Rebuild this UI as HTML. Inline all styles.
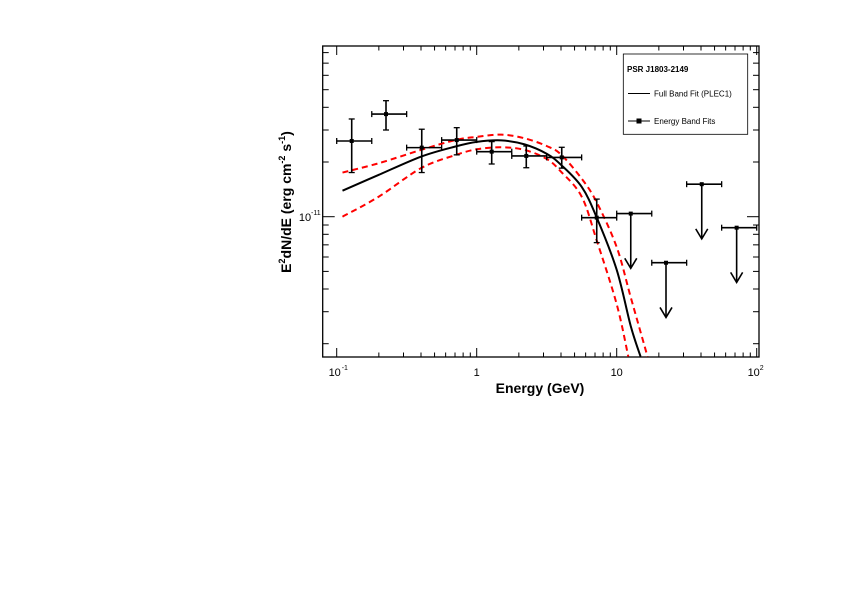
<!DOCTYPE html>
<html><head><meta charset="utf-8"><style>
html,body{margin:0;padding:0;background:#fff;}
svg{display:block;font-family:"Liberation Sans",sans-serif;}
</style></head><body>
<svg id="chart" width="842" height="595" viewBox="0 0 842 595">
<g id="plot"></g>
</svg>
<script>
const energies=[0.128,0.225,0.405,0.72,1.28,2.26,4.05,7.2];
const binLo=[0.1,0.178,0.316,0.562,1,1.78,3.16,5.62];
const binHi=[0.178,0.316,0.562,1,1.78,3.16,5.62,10];
const fluxes=[2.61e-11,3.67e-11,2.40e-11,2.64e-11,2.28e-11,2.16e-11,2.12e-11,9.88e-12];
const errUp=[3.45e-11,4.35e-11,3.03e-11,3.09e-11,2.59e-11,2.45e-11,2.41e-11,1.25e-11];
const errDown=[1.75e-11,3.0e-11,1.75e-11,2.19e-11,1.95e-11,1.86e-11,1.85e-11,7.2e-12];
const ulEnergies=[12.6,22.5,40.5,71.9];
const ulLo=[10,17.8,31.6,56.2];
const ulHi=[17.8,31.6,56.2,100];
const ulValues=[1.04e-11,5.58e-12,1.51e-11,8.7e-12];
const fitE=[0.11,0.2,0.4,0.7,1,1.5,2.2,3.16,4,5.62,7.2,10,12.6,14.8];
const fitF=[1.39e-11,1.70e-11,2.14e-11,2.43e-11,2.58e-11,2.63e-11,2.50e-11,2.22e-11,1.93e-11,1.46e-11,9.9e-12,5.1e-12,2.5e-12,1.7e-12];
const upE=[0.11,0.2,0.4,0.7,1,1.5,2.2,3.16,4,5.62,7.2,10,12.6,16.6];
const upF=[1.75e-11,1.97e-11,2.33e-11,2.64e-11,2.75e-11,2.83e-11,2.70e-11,2.45e-11,2.20e-11,1.62e-11,1.20e-11,6.8e-12,3.6e-12,1.7e-12];
const loE=[0.11,0.2,0.4,0.7,1,1.5,2.2,3.16,4,5.62,7.2,10,12.1];
const loF=[1.0e-11,1.29e-11,1.85e-11,2.18e-11,2.35e-11,2.41e-11,2.33e-11,2.08e-11,1.77e-11,1.29e-11,7.4e-12,3.3e-12,1.7e-12];

const L=322.7,R=759,T=46,B=357;
const X=e=>336.7+(Math.log10(e)+1)*140;
const Y=f=>216.7-(Math.log10(f)+11)*181.7;
const NS='http://www.w3.org/2000/svg';
const g=document.getElementById('plot');
function mk(tag,attrs,parent){const el=document.createElementNS(NS,tag);for(const k in attrs)el.setAttribute(k,attrs[k]);(parent||g).appendChild(el);return el;}
function txt(x,y,s,attrs,parent){const t=mk('text',Object.assign({x:x,y:y},attrs||{}),parent);t.textContent=s;return t;}

const frame=mk('rect',{x:L,y:T,width:R-L,height:B-T,fill:'none',stroke:'#000','stroke-width':1.3});



for(let d=-1;d<=1;d++){for(let m=1;m<=9;m++){const e=m*Math.pow(10,d);const x=X(e);if(x<L||x>R)continue;const len=m===1?9:4.5;
 mk('line',{x1:x,x2:x,y1:B,y2:B-len,stroke:'#000','stroke-width':1});
 mk('line',{x1:x,x2:x,y1:T,y2:T+len,stroke:'#000','stroke-width':1});}}
mk('line',{x1:X(100),x2:X(100),y1:B,y2:B-9,stroke:'#000'});
mk('line',{x1:X(100),x2:X(100),y1:T,y2:T+9,stroke:'#000'});
for(let d=-12;d<=-11;d++){for(let m=1;m<=9;m++){const f=m*Math.pow(10,d);const y=Y(f);if(y<T||y>B)continue;const len=m===1?12:6;
 mk('line',{x1:L,x2:L+len,y1:y,y2:y,stroke:'#000','stroke-width':1});
 mk('line',{x1:R,x2:R-len,y1:y,y2:y,stroke:'#000','stroke-width':1});}}

const xl1=txt(X(0.1)-2,376,'10',{'font-size':11,'text-anchor':'middle'});

txt(X(0.1)+5,370,'-1',{'font-size':7});
const xl2=txt(X(1),376,'1',{'font-size':11,'text-anchor':'middle'});

const xl3=txt(X(10),376,'10',{'font-size':11,'text-anchor':'middle'});

const xl4=txt(X(100)-3,376,'10',{'font-size':11,'text-anchor':'middle'});

txt(X(100)+3,370,'2',{'font-size':7});
const yl=txt(305,221,'10',{'font-size':11,'text-anchor':'middle'});

txt(311,215,'-11',{'font-size':7});

const xt=txt(540,393,'Energy (GeV)',{'font-size':14,'font-weight':'bold','text-anchor':'middle'});

const yt=mk('text',{x:0,y:0,'font-size':14,'font-weight':'bold','text-anchor':'middle',transform:'translate(291,202) rotate(-90)'});

yt.innerHTML='E<tspan font-size="9" dy="-6">2</tspan><tspan dy="6">dN/dE (erg cm</tspan><tspan font-size="9" dy="-6">-2</tspan><tspan dy="6"> s</tspan><tspan font-size="9" dy="-6">-1</tspan><tspan dy="6">)</tspan>';

const clipDef=mk('clipPath',{id:'clip'});mk('rect',{x:L,y:T,width:R-L,height:B-T},clipDef);
function path(E,F){const P=E.map((e,i)=>[X(e),Y(F[i])]);let p='M'+P[0][0]+' '+P[0][1];
 for(let i=1;i<P.length;i++){const p0=P[i-1],p1=P[i],pp=P[Math.max(i-2,0)],pn=P[Math.min(i+1,P.length-1)];
  p+=' C'+(p0[0]+(p1[0]-pp[0])/6)+' '+(p0[1]+(p1[1]-pp[1])/6)+' '+(p1[0]-(pn[0]-p0[0])/6)+' '+(p1[1]-(pn[1]-p0[1])/6)+' '+p1[0]+' '+p1[1];}
 return p;}
const fit=mk('path',{d:path(fitE,fitF),fill:'none',stroke:'#000','stroke-width':2,'clip-path':'url(#clip)'});

const up=mk('path',{d:path(upE,upF),fill:'none',stroke:'#f00','stroke-width':2,'stroke-dasharray':'6,4','clip-path':'url(#clip)'});

const lo=mk('path',{d:path(loE,loF),fill:'none',stroke:'#f00','stroke-width':2,'stroke-dasharray':'6,4','clip-path':'url(#clip)'});


for(let i=0;i<energies.length;i++){const pg=mk('g',{});
 
 
 const x=X(energies[i]),y=Y(fluxes[i]);
 mk('line',{x1:X(binLo[i]),x2:X(binHi[i]),y1:y,y2:y,stroke:'#000','stroke-width':1.6},pg);
 mk('line',{x1:x,x2:x,y1:Y(errUp[i]),y2:Y(errDown[i]),stroke:'#000','stroke-width':1.6},pg);
 [X(binLo[i]),X(binHi[i])].forEach(xx=>mk('line',{x1:xx,x2:xx,y1:y-3,y2:y+3,stroke:'#000','stroke-width':1.3},pg));
 [Y(errUp[i]),Y(errDown[i])].forEach(yy=>mk('line',{x1:x-3,x2:x+3,y1:yy,y2:yy,stroke:'#000','stroke-width':1.3},pg));
 mk('rect',{x:x-2,y:y-2,width:4,height:4,fill:'#000'},pg);}
for(let i=0;i<ulEnergies.length;i++){const pg=mk('g',{});
 
 
 const x=X(ulEnergies[i]),y=Y(ulValues[i]),ye=Y(ulValues[i]/2);
 mk('line',{x1:X(ulLo[i]),x2:X(ulHi[i]),y1:y,y2:y,stroke:'#000','stroke-width':1.6},pg);
 [X(ulLo[i]),X(ulHi[i])].forEach(xx=>mk('line',{x1:xx,x2:xx,y1:y-3,y2:y+3,stroke:'#000','stroke-width':1.3},pg));
 mk('line',{x1:x,x2:x,y1:y,y2:ye,stroke:'#000','stroke-width':1.6},pg);
 mk('polyline',{points:(x-6)+','+(ye-10)+' '+x+','+ye+' '+(x+6)+','+(ye-10),fill:'none',stroke:'#000','stroke-width':1.6},pg);
 mk('rect',{x:x-2,y:y-2,width:4,height:4,fill:'#000'},pg);}

const lg=mk('g',{});


mk('rect',{x:623.3,y:54,width:124.4,height:80.3,fill:'#fff',stroke:'#000','stroke-width':0.8},lg);
txt(627,72,'PSR J1803-2149',{'font-size':8,'font-weight':'bold'},lg);
mk('line',{x1:628,x2:650,y1:93.5,y2:93.5,stroke:'#000','stroke-width':1},lg);
txt(654,96.5,'Full Band Fit (PLEC1)',{'font-size':8},lg);
mk('line',{x1:628,x2:650,y1:121,y2:121,stroke:'#000','stroke-width':1},lg);
mk('rect',{x:636.5,y:118.5,width:5,height:5,fill:'#000'},lg);
txt(654,124,'Energy Band Fits',{'font-size':8},lg);
</script>
</body></html>
